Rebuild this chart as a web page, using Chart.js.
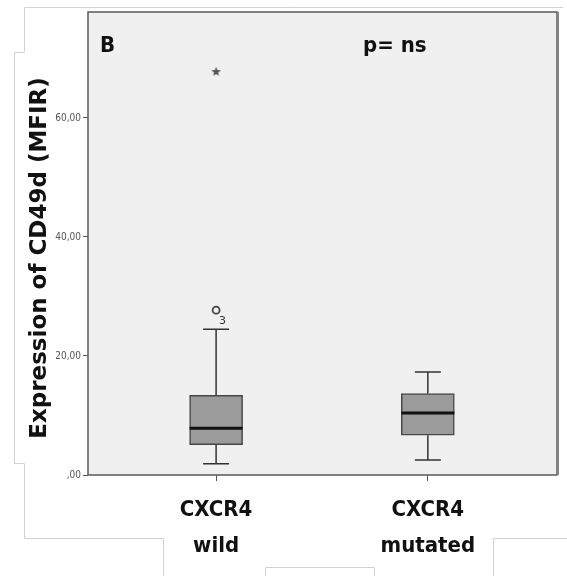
<!DOCTYPE html>
<html>
<head>
<meta charset="utf-8">
<script src="https://cdn.jsdelivr.net/npm/chart.js@4/dist/chart.umd.min.js"></script>
<style>
  html, body { margin: 0; padding: 0; background: #fff; }
  #wrap { width: 567px; height: 576px; position: relative; }
</style>
</head>
<body>
<div id="wrap"><canvas id="boxChart" width="567" height="576"></canvas></div>
<script>
// categories and box statistics
const groups = [['CXCR4', 'wild'], ['CXCR4', 'mutated']];
const groupPos = [1, 2];
const whiskerLow = [1.9, 2.5];
const q1 = [5.1, 6.7];
const median = [7.85, 10.4];
const q3 = [13.4, 13.7];
const whiskerHigh = [24.5, 17.3];
// outliers: circle (with case number) and extreme star
const circleOutliers = [{ x: 1, y: 27.7, label: '3' }];
const starOutliers = [{ x: 1, y: 67.8 }];
const yTicks = [0, 20, 40, 60];
const yTickLabels = [',00', '20,00', '40,00', '60,00'];

const Y_MAX = 77.8;
const NARROW = '"Liberation Sans Narrow", "DejaVu Sans Condensed", sans-serif';

const boxData = groupPos.map((x, i) => ({ x: x, y: [q1[i], q3[i]] }));

// small filled star used for the extreme value
function makeStar() {
  const c = document.createElement('canvas');
  c.width = 11; c.height = 11;
  const g = c.getContext('2d');
  g.fillStyle = '#555';
  g.beginPath();
  for (let k = 0; k < 10; k++) {
    const r = k % 2 === 0 ? 5 : 2.2;
    const ang = -Math.PI / 2 + k * Math.PI / 5;
    g.lineTo(5.5 + r * Math.cos(ang), 5.8 + r * Math.sin(ang));
  }
  g.closePath();
  g.fill();
  return c;
}

const frameBg = {
  id: 'frameBg',
  beforeDraw(chart) {
    const { ctx, chartArea: a } = chart;
    ctx.save();
    ctx.fillStyle = '#f0f0f0';
    ctx.fillRect(a.left, a.top, a.right - a.left, a.bottom - a.top);
    // faint page cut lines around the figure
    ctx.strokeStyle = '#d2d2d2';
    ctx.lineWidth = 1;
    ctx.beginPath();
    ctx.moveTo(24.5, 52); ctx.lineTo(24.5, 7.5); ctx.lineTo(563, 7.5);
    ctx.moveTo(14, 52.5); ctx.lineTo(24.5, 52.5);
    ctx.moveTo(14.5, 52.5); ctx.lineTo(14.5, 463.5); ctx.lineTo(24.5, 463.5);
    ctx.lineTo(24.5, 538.5); ctx.lineTo(163.5, 538.5); ctx.lineTo(163.5, 576);
    ctx.moveTo(265.5, 576); ctx.lineTo(265.5, 567.5); ctx.lineTo(374.5, 567.5); ctx.lineTo(374.5, 576);
    ctx.moveTo(493.5, 576); ctx.lineTo(493.5, 538.5); ctx.lineTo(567, 538.5);
    ctx.stroke();
    ctx.restore();
  },
  afterDatasetsDraw(chart) {
    const { ctx, chartArea: a, scales } = chart;
    const xs = scales.x, ys = scales.y;
    ctx.save();
    groupPos.forEach((g, i) => {
      const cx = xs.getPixelForValue(g);
      const capHalf = 13;
      const boxHalf = 26.5;
      ctx.strokeStyle = '#333';
      ctx.lineWidth = 1.5;
      ctx.beginPath();
      // upper whisker
      ctx.moveTo(cx, ys.getPixelForValue(q3[i]));
      ctx.lineTo(cx, ys.getPixelForValue(whiskerHigh[i]));
      ctx.moveTo(cx - capHalf, ys.getPixelForValue(whiskerHigh[i]));
      ctx.lineTo(cx + capHalf, ys.getPixelForValue(whiskerHigh[i]));
      // lower whisker
      ctx.moveTo(cx, ys.getPixelForValue(q1[i]));
      ctx.lineTo(cx, ys.getPixelForValue(whiskerLow[i]));
      ctx.moveTo(cx - capHalf, ys.getPixelForValue(whiskerLow[i]));
      ctx.lineTo(cx + capHalf, ys.getPixelForValue(whiskerLow[i]));
      ctx.stroke();
      // median
      ctx.strokeStyle = '#111';
      ctx.lineWidth = 3;
      ctx.beginPath();
      ctx.moveTo(cx - boxHalf, ys.getPixelForValue(median[i]));
      ctx.lineTo(cx + boxHalf, ys.getPixelForValue(median[i]));
      ctx.stroke();
    });
    // case number next to circle outlier
    ctx.fillStyle = '#333';
    ctx.font = '11px "DejaVu Sans", sans-serif';
    ctx.textAlign = 'left';
    ctx.textBaseline = 'middle';
    circleOutliers.forEach(o => {
      ctx.fillText(o.label, xs.getPixelForValue(o.x) + 3, ys.getPixelForValue(o.y) + 11);
    });
    // panel letter and p value
    ctx.fillStyle = '#111';
    ctx.font = 'bold 22px ' + NARROW;
    ctx.textBaseline = 'alphabetic';
    ctx.fillText('B', 100, 52);
    ctx.fillText('p= ns', 363, 52);
    // frame
    ctx.strokeStyle = '#5a5a5a';
    ctx.lineWidth = 1.5;
    ctx.strokeRect(a.left, a.top, a.right - a.left, a.bottom - a.top);
    ctx.strokeStyle = '#888';
    ctx.lineWidth = 1;
    ctx.beginPath();
    ctx.moveTo(a.right + 1.5, a.top); ctx.lineTo(a.right + 1.5, a.bottom);
    ctx.stroke();
    // y axis title
    ctx.translate(40, 258);
    ctx.rotate(-Math.PI / 2);
    ctx.font = 'bold 23px "DejaVu Sans", sans-serif';
    ctx.textAlign = 'center';
    ctx.textBaseline = 'middle';
    ctx.fillStyle = '#111';
    ctx.fillText('Expression of CD49d (MFIR)', 0, 0);
    ctx.restore();
  }
};

new Chart(document.getElementById('boxChart'), {
  type: 'bar',
  data: {
    datasets: [
      {
        type: 'bar',
        data: boxData,
        backgroundColor: '#9b9b9b',
        borderColor: '#474747',
        borderWidth: 1.5,
        borderSkipped: false,
        barThickness: 53
      },
      {
        type: 'scatter',
        data: circleOutliers,
        pointStyle: 'circle',
        pointRadius: 3.5,
        backgroundColor: 'rgba(0,0,0,0)',
        borderColor: '#444',
        borderWidth: 1.8
      },
      {
        type: 'scatter',
        data: starOutliers,
        pointStyle: makeStar(),
        pointRadius: 5
      }
    ]
  },
  options: {
    responsive: false,
    animation: false,
    layout: { padding: { left: 20, right: 10, top: 12, bottom: 0 } },
    plugins: { legend: { display: false }, tooltip: { enabled: false } },
    scales: {
      x: {
        type: 'linear',
        min: 0.395,
        max: 2.61,
        offset: false,
        afterBuildTicks: s => { s.ticks = groupPos.map(v => ({ value: v })); },
        afterFit: s => { s.height = 101; },
        grid: { offset: false, drawOnChartArea: false, drawTicks: true, tickLength: 6, tickColor: '#555' },
        border: { display: false },
        ticks: {
          padding: 12,
          color: '#111',
          font: { family: NARROW, size: 22, weight: 'bold', lineHeight: 1.6 },
          callback: v => groups[groupPos.indexOf(v)] || ''
        }
      },
      y: {
        min: 0,
        max: Y_MAX,
        afterBuildTicks: s => { s.ticks = yTicks.map(v => ({ value: v })); },
        afterFit: s => { s.width = 68; },
        grid: { drawOnChartArea: false, drawTicks: true, tickLength: 5, tickColor: '#555' },
        border: { display: false },
        ticks: {
          padding: 2,
          color: '#555',
          font: { family: '"DejaVu Sans Condensed", "DejaVu Sans", sans-serif', size: 10 },
          callback: v => yTickLabels[yTicks.indexOf(v)]
        }
      }
    }
  },
  plugins: [frameBg]
});
</script>
</body>
</html>
